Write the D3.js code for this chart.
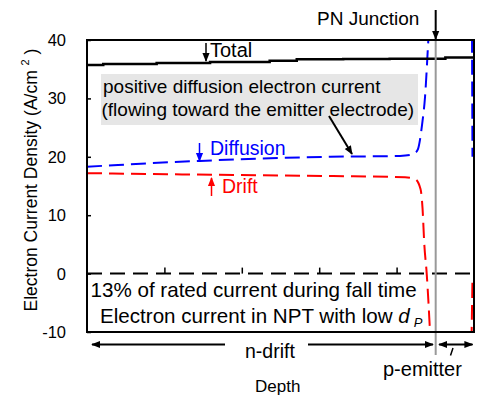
<!DOCTYPE html>
<html>
<head>
<meta charset="utf-8">
<script src="https://cdn.jsdelivr.net/npm/d3@7/dist/d3.min.js"></script>
<style>
  html, body { margin: 0; padding: 0; background: #fff; }
  svg { display: block; font-family: "Liberation Sans", Arial, sans-serif; }
</style>
</head>
<body>
<svg id="chart" width="479" height="396"></svg>
<script>
// Depth ticks (arbitrary units across the device) and current-density ticks
const depthTicks = [0, 1, 2, 3, 4, 5];
const currentTicks = [-10, 0, 10, 20, 30, 40];
const pnJunctionDepth = 4.505;

// Total electron current density (A/cm^2) – stepped profile
const totalDepth   = [0, 0.21, 0.9, 1.59, 2.36, 2.71, 3.31, 3.91, 4.63, 5.0];
const totalCurrent = [35.7, 35.9, 36.05, 36.25, 36.45, 36.7, 36.75, 36.8, 37.0, 37.0];

// Diffusion component
const diffusionDepth   = [0, 0.4, 0.814, 1.46, 2.235, 3.14, 4.044, 4.173, 4.238, 4.276, 4.302, 4.328, 4.367, 4.41, 4.432, 4.5, 4.7, 4.9, 4.965, 4.98];
const diffusionCurrent = [18.3, 18.6, 18.9, 19.3, 19.7, 20.0, 20.15, 20.3, 20.65, 21.3, 22.9, 25.4, 30.2, 40, 45, 60, 75, 70, 60, 20];

// Drift component
const driftDepth   = [0, 0.814, 1.89, 3.18, 4.109, 4.238, 4.309, 4.335, 4.358, 4.389, 4.412, 4.432, 4.46, 4.6, 4.8, 4.95, 4.98];
const driftCurrent = [17.2, 17.05, 16.9, 16.7, 16.5, 16.2, 14.5, 11.2, 5.0, 0.0, -5.0, -10, -16, -30, -30, -20, -1];

const svg = d3.select("#chart");
const plotLeft = 87, plotRight = 474, plotTop = 40, plotBottom = 332;

const x = d3.scaleLinear().domain([0, 5]).range([plotLeft, plotRight]);
const y = d3.scaleLinear().domain([-10, 40]).range([plotBottom, plotTop]);

// arrowheads
const defs = svg.append("defs");
function marker(id, color) {
  defs.append("marker")
    .attr("id", id).attr("viewBox", "0 0 10 10")
    .attr("refX", 9).attr("refY", 5)
    .attr("markerWidth", 9).attr("markerHeight", 9)
    .attr("markerUnits", "userSpaceOnUse")
    .attr("orient", "auto-start-reverse")
    .append("path").attr("d", "M0,1 L10,5 L0,9 Z").attr("fill", color);
}
marker("arrK", "#000");
marker("arrB", "#0000ff");
marker("arrR", "#ff0000");

defs.append("clipPath").attr("id", "plotClip")
  .append("rect").attr("x", plotLeft).attr("y", plotTop)
  .attr("width", plotRight - plotLeft).attr("height", plotBottom - plotTop);

// annotation box
svg.append("rect").attr("x", 101).attr("y", 74).attr("width", 317).attr("height", 51)
  .attr("fill", "#e6e6e6");

// zero reference line
svg.append("line")
  .attr("x1", x(0)).attr("x2", x(5)).attr("y1", y(0)).attr("y2", y(0))
  .attr("stroke", "#000").attr("stroke-width", 2).attr("stroke-dasharray", "15,8");

// x ticks sitting on the zero line, pointing up
const xAxis = d3.axisTop(x).tickValues(depthTicks.slice(1, -1)).tickSize(6).tickFormat("");
const gx = svg.append("g").attr("transform", `translate(0,${y(0)})`).call(xAxis);
gx.select(".domain").remove();
gx.selectAll(".tick line").attr("stroke", "#000").attr("stroke-width", 1.5);

// y axis: inward ticks + labels
const yAxis = d3.axisRight(y).tickValues(currentTicks).tickSize(4).tickFormat("");
const gy = svg.append("g").attr("transform", `translate(${plotLeft},0)`).call(yAxis);
gy.select(".domain").remove();
gy.selectAll(".tick line").attr("stroke", "#000").attr("stroke-width", 1.5);

svg.append("g").selectAll("text").data(currentTicks).join("text")
  .attr("x", 66).attr("y", d => y(d)).attr("dy", "0.36em")
  .attr("text-anchor", "end").attr("font-size", 16.5).attr("fill", "#000")
  .text(d => d);

// curves
const plot = svg.append("g").attr("clip-path", "url(#plotClip)");
const lineMono = d3.line().x(d => x(d[0])).y(d => y(d[1])).curve(d3.curveMonotoneX);
const lineStep = d3.line().x(d => x(d[0])).y(d => y(d[1])).curve(d3.curveStepAfter);

plot.append("path")
  .datum(driftDepth.map((d, i) => [d, driftCurrent[i]]))
  .attr("d", lineMono).attr("fill", "none")
  .attr("stroke", "#ff0000").attr("stroke-width", 2).attr("stroke-dasharray", "15,7");

plot.append("path")
  .datum(diffusionDepth.map((d, i) => [d, diffusionCurrent[i]]))
  .attr("d", lineMono).attr("fill", "none")
  .attr("stroke", "#0000ff").attr("stroke-width", 2).attr("stroke-dasharray", "15,7");

plot.append("path")
  .datum(totalDepth.map((d, i) => [d, totalCurrent[i]]))
  .attr("d", lineStep).attr("fill", "none")
  .attr("stroke", "#000").attr("stroke-width", 2.5);

// PN junction marker
svg.append("line")
  .attr("x1", x(pnJunctionDepth)).attr("x2", x(pnJunctionDepth))
  .attr("y1", plotTop).attr("y2", 355)
  .attr("stroke", "#999").attr("stroke-width", 2);

// frame
svg.append("rect").attr("x", plotLeft).attr("y", plotTop)
  .attr("width", plotRight - plotLeft).attr("height", plotBottom - plotTop)
  .attr("fill", "none").attr("stroke", "#000").attr("stroke-width", 2);

// y-axis title
const yt = svg.append("text")
  .attr("transform", "translate(37,180) rotate(-90)")
  .attr("text-anchor", "middle").attr("font-size", 17.5).attr("fill", "#000");
yt.append("tspan").text("Electron Current Density (A/cm ");
yt.append("tspan").attr("font-size", 11).attr("dy", -8).text("2");
yt.append("tspan").attr("dy", 8).text(" )");

// annotations
function arrow(x1, y1, x2, y2, color, m, w) {
  svg.append("line").attr("x1", x1).attr("y1", y1).attr("x2", x2).attr("y2", y2)
    .attr("stroke", color).attr("stroke-width", w || 1.5)
    .attr("marker-end", `url(#${m})`);
}
function label(tx, ty, str, size, color, anchor) {
  return svg.append("text").attr("x", tx).attr("y", ty)
    .attr("font-size", size).attr("fill", color || "#000")
    .attr("text-anchor", anchor || "start").text(str);
}

label(317, 25, "PN Junction", 19);
arrow(x(pnJunctionDepth), 10, x(pnJunctionDepth), 39, "#000", "arrK", 2);

arrow(206, 43, 206, 61, "#000", "arrK", 1.5);
label(210, 57, "Total", 20);

label(103, 93, "positive diffusion electron current", 19);
label(101.5, 115.5, "(flowing toward the emitter electrode)", 19);
arrow(329, 116, 352, 154, "#000", "arrK", 2);

arrow(199.5, 143, 199.5, 161, "#0000ff", "arrB", 1.5);
label(210, 155, "Diffusion", 19.5, "#0000ff");

arrow(211.5, 196, 211.5, 178, "#ff0000", "arrR", 1.5);
label(222, 193, "Drift", 19.5, "#ff0000");

label(90.5, 297, "13% of rated current during fall time", 20.6);
const ec = label(100, 323, "Electron current in NPT with low ", 20.6);
ec.append("tspan").attr("font-style", "italic").text("d");
ec.append("tspan").attr("font-style", "italic").attr("font-size", 13).attr("dx", 4).attr("dy", 4).text("P");

// region arrows below the plot
arrow(225, 344.5, 92, 344.5, "#000", "arrK", 2);
arrow(308, 344.5, 433, 344.5, "#000", "arrK", 2);
svg.append("line").attr("x1", 439).attr("x2", 472.5).attr("y1", 344.5).attr("y2", 344.5)
  .attr("stroke", "#000").attr("stroke-width", 2)
  .attr("marker-start", "url(#arrK)").attr("marker-end", "url(#arrK)");
svg.append("line").attr("x1", 453).attr("y1", 348).attr("x2", 450.5).attr("y2", 355.5)
  .attr("stroke", "#000").attr("stroke-width", 1.5);

label(245, 358, "n-drift", 19.5);
label(383, 376, "p-emitter", 20);
label(255, 392, "Depth", 17);
</script>
</body>
</html>
